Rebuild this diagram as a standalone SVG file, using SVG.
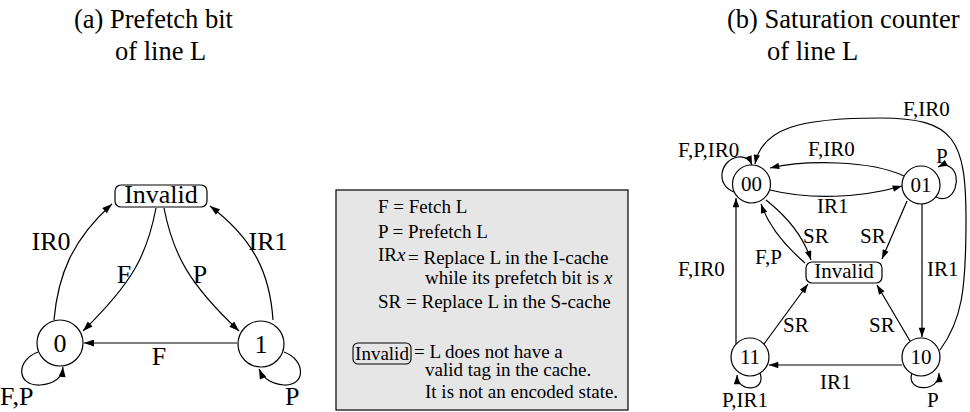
<svg xmlns="http://www.w3.org/2000/svg" width="970" height="412" viewBox="0 0 970 412" font-family="Liberation Serif, Times New Roman, serif">
  <defs>
    <marker id="arr" viewBox="0 0 10 7" refX="10" refY="3.5" markerWidth="11" markerHeight="7" orient="auto" markerUnits="userSpaceOnUse">
      <path d="M0,0 L10,3.5 L0,7 z" fill="#000"/>
    </marker>
    <marker id="arrs" viewBox="0 0 10 7" refX="10" refY="3.5" markerWidth="10" markerHeight="6.5" orient="auto" markerUnits="userSpaceOnUse">
      <path d="M0,0 L10,3.5 L0,7 z" fill="#000"/>
    </marker>
  </defs>
  <style>
    text { font-family: "Liberation Serif", "Times New Roman", serif; fill: #000; }
    .title { font-size: 26.5px; }
    .la { font-size: 26px; }
    .lb { font-size: 21px; }
    .lg { font-size: 19px; }
    .node { fill: #fff; stroke: #000; stroke-width: 1.2; }
    .edge { fill: none; stroke: #000; stroke-width: 1.2; }
    .ea { marker-end: url(#arr); }
    .eb { marker-end: url(#arrs); }
    .mid { text-anchor: middle; }
  </style>

  <rect x="0" y="0" width="970" height="412" fill="#fff"/>

  <!-- Titles -->
  <text class="title" x="74" y="28">(a) Prefetch bit</text>
  <text class="title" x="115" y="60">of line L</text>
  <text class="title" x="727" y="28">(b) Saturation counter</text>
  <text class="title" x="767" y="60">of line L</text>

  <!-- (a) prefetch bit: connectors -->
  <g id="edges-a">
    <path class="edge ea" d="M54,320 C58,275 72,240 112,204"/>
    <path class="edge ea" d="M273,320 C270,275 255,240 210,206"/>
    <path class="edge ea" d="M156,208 C147,255 133,282 83,331"/>
    <path class="edge ea" d="M164,208 C173,255 190,285 239,331"/>
    <path class="edge ea" d="M237,343 L84,343"/>
    <path class="edge ea" d="M38,352 C16,360 16,386 40,385 C54,384 62,378 63,367"/>
    <path class="edge ea" d="M284,352 C306,360 306,386 284,385 C272,384 263,378 259,369"/>
    <text class="la mid" x="51" y="250">IR0</text>
    <text class="la mid" x="268" y="250">IR1</text>
    <text class="la mid" x="124" y="283">F</text>
    <text class="la mid" x="200" y="283">P</text>
    <text class="la mid" x="159" y="365">F</text>
    <text class="la" x="0" y="405">F,P</text>
    <text class="la" x="285" y="405">P</text>
  </g>

  <!-- (a) prefetch bit: states -->
  <g id="a-invalid">
    <rect class="node" x="115" y="185" width="92" height="22" rx="6"/>
    <text class="la mid" x="161" y="203">Invalid</text>
  </g>
  <g id="a-state0">
    <circle class="node" cx="60" cy="343" r="23"/>
    <text class="la mid" x="60" y="352">0</text>
  </g>
  <g id="a-state1">
    <circle class="node" cx="261" cy="344" r="23"/>
    <text class="la mid" x="261" y="353">1</text>
  </g>

  <!-- Legend -->
  <g id="legend">
    <rect x="336" y="190" width="292" height="220" fill="#e6e6e6" stroke="#000" stroke-width="1.2"/>
    <text class="lg" x="378" y="213">F = Fetch L</text>
    <text class="lg" x="378" y="238">P = Prefetch L</text>
    <text class="lg" x="378" y="261">IR<tspan font-style="italic">x</tspan></text>
    <text class="lg" x="408" y="264">= Replace L in the I-cache</text>
    <text class="lg" x="425" y="284">while its prefetch bit is <tspan font-style="italic">x</tspan></text>
    <text class="lg" x="378" y="308">SR = Replace L in the S-cache</text>
    <rect x="353" y="343" width="58" height="21" rx="5" fill="none" stroke="#000" stroke-width="1.1"/>
    <text class="lg mid" x="382" y="360">Invalid</text>
    <text class="lg" x="414" y="358">= L does not have a</text>
    <text class="lg" x="425" y="376">valid tag in the cache.</text>
    <text class="lg" x="425" y="398">It is not an encoded state.</text>
  </g>

  <!-- (b) saturation counter: connectors -->
  <g id="edges-b">
    <path class="edge eb" d="M734,192 C715,185 720,160 738,157 C745,156 750,160 752,165"/>
    <path class="edge eb" d="M940,350 C962,320 966,290 966,220 C966,140 955,118 880,118 C800,118 762,128 755,164"/>
    <path class="edge eb" d="M904,176 C870,160 805,160 770,168"/>
    <path class="edge eb" d="M770,190 C810,200 860,198 902,186"/>
    <path class="edge eb" d="M936,197 C955,206 963,175 950,167 C946,164 942,165 938,167"/>
    <path class="edge eb" d="M766,200 C785,215 803,235 811,260"/>
    <path class="edge eb" d="M805,263 C790,250 770,230 761,204"/>
    <path class="edge eb" d="M907,201 L882,259"/>
    <path class="edge eb" d="M922,204 L922,337"/>
    <path class="edge eb" d="M736,344 L736,198"/>
    <path class="edge eb" d="M764,344 L808,284"/>
    <path class="edge eb" d="M910,341 L877,285"/>
    <path class="edge eb" d="M902,365 L769,365"/>
    <path class="edge eb" d="M760,373 C767,392 737,393 737,375"/>
    <path class="edge eb" d="M912,373 C905,392 940,393 939,373"/>
    <text class="lb" x="678" y="157">F,P,IR0</text>
    <text class="lb" x="903" y="116">F,IR0</text>
    <text class="lb" x="808" y="156">F,IR0</text>
    <text class="lb" x="936" y="163">P</text>
    <text class="lb" x="817" y="213">IR1</text>
    <text class="lb" x="803" y="243">SR</text>
    <text class="lb" x="860" y="243">SR</text>
    <text class="lb" x="755" y="264">F,P</text>
    <text class="lb" x="678" y="276">F,IR0</text>
    <text class="lb" x="927" y="276">IR1</text>
    <text class="lb" x="783" y="332">SR</text>
    <text class="lb" x="869" y="332">SR</text>
    <text class="lb" x="820" y="389">IR1</text>
    <text class="lb" x="722" y="407">P,IR1</text>
    <text class="lb" x="927" y="407">P</text>
  </g>

  <!-- (b) saturation counter: states -->
  <g id="b-invalid">
    <rect class="node" x="806" y="262" width="76" height="21" rx="6"/>
    <text class="lb mid" x="844" y="278">Invalid</text>
  </g>
  <g id="b-state00">
    <circle class="node" cx="751.5" cy="184" r="19"/>
    <text class="lb mid" x="751.5" y="191">00</text>
  </g>
  <g id="b-state01">
    <circle class="node" cx="921" cy="185" r="19"/>
    <text class="lb mid" x="921" y="192">01</text>
  </g>
  <g id="b-state11">
    <circle class="node" cx="750" cy="357" r="19"/>
    <text class="lb mid" x="750" y="364">11</text>
  </g>
  <g id="b-state10">
    <circle class="node" cx="921" cy="357" r="19"/>
    <text class="lb mid" x="921" y="364">10</text>
  </g>
</svg>
